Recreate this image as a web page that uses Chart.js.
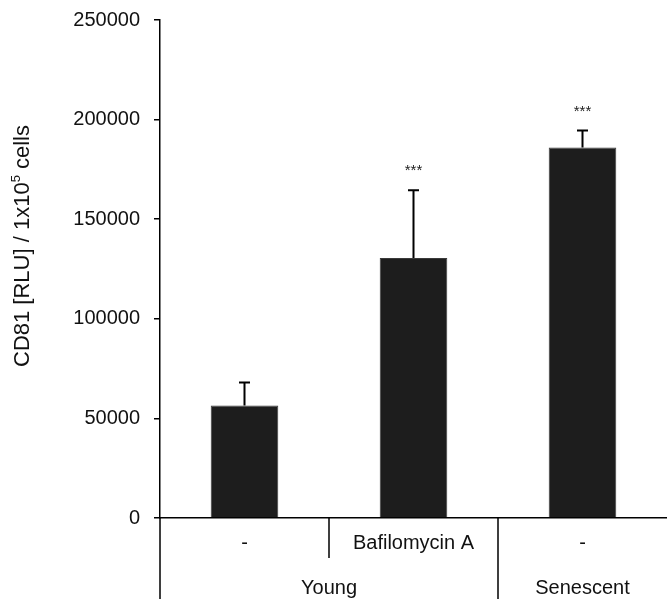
<!DOCTYPE html>
<html>
<head>
<meta charset="utf-8">
<script src="https://cdn.jsdelivr.net/npm/chart.js@4/dist/chart.umd.min.js"></script>
<style>
  html, body { margin: 0; padding: 0; background: #fff; }
  #wrap { width: 667px; height: 603px; position: relative; }
</style>
</head>
<body>
<div id="wrap"><canvas id="cd81"></canvas></div>
<script>
// дані
const categories = ['-', 'Bafilomycin A', '-'];
const groupLabels = ['Young', 'Senescent'];
const groupSpans = [[0, 1], [2, 2]];      // перший і останній індекс категорії в групі
const means = [56500, 130500, 186000];
const errUp = [11500, 34000, 8500];
const stars = ['', '***', '***'];
const yTicks = [0, 50000, 100000, 150000, 200000, 250000];
const yTitle = ['CD81 [RLU] / 1x10', '5', ' cells'];   // середня частина — верхній індекс

const FONT = '"Liberation Sans", Arial, "DejaVu Sans", sans-serif';
const INK = '#111';

/* ---- похибки та зірочки ---- */
const errorBars = {
    id: 'errorBars',
    afterDatasetsDraw(chart) {
        const { ctx, scales: { x, y } } = chart;
        ctx.save();
        ctx.strokeStyle = '#000';
        ctx.lineWidth = 2;
        means.forEach((m, i) => {
            const cx = x.getPixelForValue(i);
            const top = y.getPixelForValue(m + errUp[i]);
            ctx.beginPath();
            ctx.moveTo(cx, y.getPixelForValue(m));
            ctx.lineTo(cx, top);
            ctx.moveTo(cx - 5.5, top);
            ctx.lineTo(cx + 5.5, top);
            ctx.stroke();
            if (stars[i]) {
                ctx.fillStyle = '#222';
                ctx.font = '15px ' + FONT;
                ctx.textAlign = 'center';
                ctx.textBaseline = 'middle';
                ctx.fillText(stars[i], cx, top - 19);
            }
        });
        ctx.restore();
    }
};

/* ---- підписи під віссю x з розділювачами + назва осі y ---- */
const groupAxis = {
    id: 'groupAxis',
    afterDraw(chart) {
        const { ctx, chartArea, scales: { x } } = chart;
        const base = chartArea.bottom;
        const half = (x.getPixelForValue(1) - x.getPixelForValue(0)) / 2;
        ctx.save();
        ctx.strokeStyle = '#000';
        ctx.lineWidth = 1.5;
        ctx.beginPath();
        // продовження осі y донизу
        ctx.moveTo(chartArea.left, base);
        ctx.lineTo(chartArea.left, base + 81);
        // межі між категоріями всередині групи (короткі) і між групами (довгі)
        for (let i = 1; i < categories.length; i++) {
            const bx = x.getPixelForValue(i) - half;
            const long = groupSpans.some(s => s[0] === i);
            ctx.moveTo(bx, base);
            ctx.lineTo(bx, base + (long ? 81 : 40));
        }
        ctx.stroke();

        ctx.fillStyle = INK;
        ctx.font = '20px ' + FONT;
        ctx.textAlign = 'center';
        ctx.textBaseline = 'middle';
        categories.forEach((c, i) => ctx.fillText(c, x.getPixelForValue(i), base + 25));
        groupSpans.forEach((s, g) => {
            const cx = (x.getPixelForValue(s[0]) + x.getPixelForValue(s[1])) / 2;
            ctx.fillText(groupLabels[g], cx, base + 70);
        });

        // назва осі y з верхнім індексом
        const big = '22px ' + FONT, small = '13px ' + FONT;
        ctx.font = big;
        const w1 = ctx.measureText(yTitle[0]).width;
        const w3 = ctx.measureText(yTitle[2]).width;
        ctx.font = small;
        const w2 = ctx.measureText(yTitle[1]).width;
        const total = w1 + w2 + w3;
        ctx.translate(29, 246);
        ctx.rotate(-Math.PI / 2);
        ctx.textAlign = 'left';
        ctx.textBaseline = 'alphabetic';
        let px = -total / 2;
        ctx.font = big;
        ctx.fillText(yTitle[0], px, 0);
        px += w1;
        ctx.font = small;
        ctx.fillText(yTitle[1], px, -9);
        px += w2;
        ctx.font = big;
        ctx.fillText(yTitle[2], px, 0);
        ctx.restore();
    }
};

new Chart(document.getElementById('cd81'), {
    type: 'bar',
    data: {
        labels: categories.map((c, i) => c + i),
        datasets: [{
            data: means,
            backgroundColor: '#1d1d1d',
            borderColor: '#3a3a3a',
            borderWidth: 1,
            barPercentage: 0.4,
            categoryPercentage: 1
        }]
    },
    options: {
        responsive: true,
        maintainAspectRatio: false,
        animation: false,
        layout: { padding: { top: 10, right: 0, bottom: 0, left: 0 } },
        plugins: { legend: { display: false }, tooltip: { enabled: false } },
        scales: {
            x: {
                ticks: { display: false },
                grid: { display: false },
                border: { display: true, color: '#000', width: 1.5 },
                afterFit: s => { s.height = 85; }
            },
            y: {
                min: 0,
                max: 250000,
                afterBuildTicks: s => { s.ticks = yTicks.map(v => ({ value: v })); },
                ticks: {
                    color: INK,
                    font: { family: FONT, size: 20, lineHeight: 0.6 },
                    padding: 14,
                    callback: v => String(v)
                },
                grid: { drawOnChartArea: false, drawTicks: true, tickLength: 6, color: '#000', lineWidth: 1.5 },
                border: { display: true, color: '#000', width: 1.5 },
                afterFit: s => { s.width = 160; }
            }
        }
    },
    plugins: [errorBars, groupAxis]
});
</script>
</body>
</html>
